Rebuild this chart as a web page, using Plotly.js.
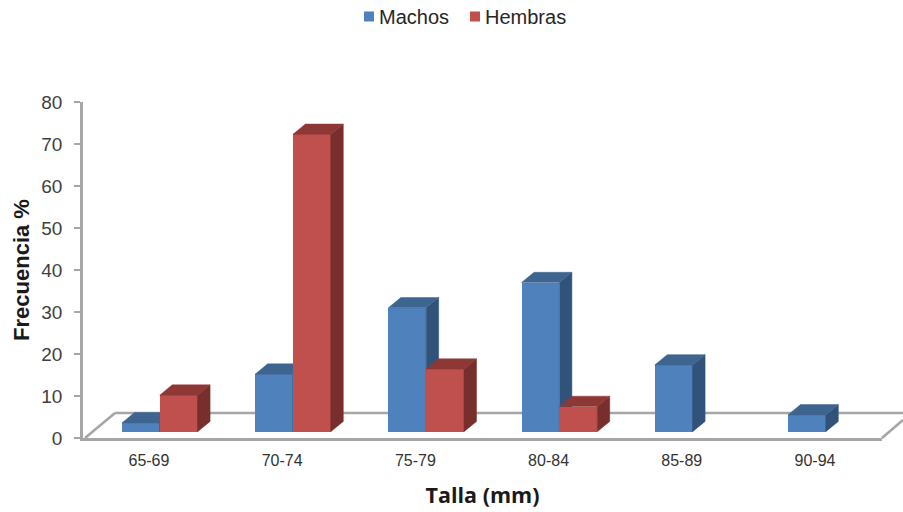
<!DOCTYPE html>
<html>
<head>
<meta charset="utf-8">
<script src="https://cdn.plot.ly/plotly-3.0.1.min.js"></script>
<style>html,body{margin:0;padding:0;background:#fff;overflow:hidden}</style>
</head>
<body>
<div id="chart" style="width:903px;height:512px"></div>
<script>
const categories = ["65-69","70-74","75-79","80-84","85-89","90-94"];
const machos  = [2.1, 13.7, 29.5, 35.5, 15.9, 4];
const hembras = [8.7, 70.8, 14.9, 6, null, null];

// Pseudo-3D geometry, in axis units
const base = 1.5, depthX = 0.094, depthY = 2.45, barW = 0.284;
const offM = -0.203, offH = offM + barW;
const xPos = categories.map((_, i) => i);

function bar(name, vals, off, color, xa, ya, legendwidth) {
  return {type:'bar', name, x:xPos, y:vals, base:vals.map(()=>base), offset:off, width:barW,
    marker:{color, line:{width:0}}, xaxis:xa, yaxis:ya, hoverinfo:'x+y', legendwidth};
}
function face(vals, off, color, kind, xa, ya) {
  const xs = [], ys = [];
  vals.forEach((v, i) => {
    if (v === null) return;
    const L = i + off, R = L + barW, t = base + v;
    const px = kind === 'top' ? [L, L+depthX, R+depthX, R, L] : [R, R+depthX, R+depthX, R, R];
    const py = kind === 'top' ? [t, t+depthY, t+depthY, t, t] : [base, base+depthY, t+depthY, t, base];
    xs.push(...px, null); ys.push(...py, null);
  });
  return {type:'scatter', mode:'lines', x:xs, y:ys, fill:'toself', fillcolor:color,
    line:{color, width:0.5}, showlegend:false, hoverinfo:'skip', xaxis:xa, yaxis:ya};
}

const traces = [
  bar('Machos', machos, offM, '#4f81bd', 'x', 'y', 61),
  face(machos, offM, '#31527a', 'side', 'x', 'y'),
  face(machos, offM, '#3e6590', 'top', 'x', 'y'),
  bar('Hembras', hembras, offH, '#c0504d', 'x2', 'y2', 86),
  face(hembras, offH, '#782e2c', 'side', 'x2', 'y2'),
  face(hembras, offH, '#8e3836', 'top', 'x2', 'y2')
];

const plotL = 83, plotR = 882, plotT = 102, plotB = 438;
const xRange = [-0.495, 5.503], yRange = [0, 80];
const px = v => (v - plotL) / (plotR - plotL);
const py = v => (plotB - v) / (plotB - plotT);
const floorLine = {color:'#a6a6a6', width:2.6};
const floorShapes = [
  [85,438,115,413],[115,413,903,413],[882,438,903,420]
].map(s => ({type:'line', layer:'below', xref:'paper', yref:'paper',
  x0:px(s[0]), y0:py(s[1]), x1:px(s[2]), y1:py(s[3]), line:floorLine}));

const layout = {
  width:903, height:512, autosize:false,
  margin:{l:plotL, r:903-plotR, t:plotT, b:512-plotB, autoexpand:false},
  paper_bgcolor:'#fff', plot_bgcolor:'rgba(0,0,0,0)',
  font:{family:'"Liberation Sans", Arial, sans-serif', color:'#404040'},
  showlegend:true,
  legend:{orientation:'h', x:px(339), xanchor:'left', y:py(-3), yanchor:'top',
    font:{size:20, color:'#262626'}, traceorder:'normal'},
  xaxis:{type:'linear', range:xRange, tickmode:'array', tickvals:xPos, ticktext:categories,
    showgrid:false, zeroline:false, showline:true, linecolor:'#a6a6a6', linewidth:2.6,
    ticks:'outside', ticklen:6, tickcolor:'rgba(0,0,0,0)',
    tickfont:{size:16, color:'#333333'},
    title:{text:'Talla (mm)', standoff:20, font:{family:'"Open Sans", sans-serif', size:21.5, color:'#1a1a1a', weight:700}}},
  yaxis:{range:yRange, tickmode:'array', tickvals:[0,10,20,30,40,50,60,70,80],
    showgrid:false, zeroline:false, showline:true, linecolor:'#a6a6a6', linewidth:2.6,
    ticks:'outside', ticklen:6, tickwidth:1.5, tickcolor:'#a6a6a6', ticklabelstandoff:8,
    tickfont:{size:19, color:'#404040'},
    title:{text:'Frecuencia %', standoff:6, font:{size:22, color:'#1a1a1a', weight:700}}},
  xaxis2:{overlaying:'x', matches:'x', visible:false},
  yaxis2:{overlaying:'y', matches:'y', visible:false},
  shapes:floorShapes,
  bargap:0
};

Plotly.newPlot('chart', traces, layout, {displayModeBar:false, responsive:false}).then(gd => {
  // Legend keys in the reference are small squares set close to their text.
  gd.querySelectorAll('.legend .legendsymbols').forEach(g => {
    g.setAttribute('transform', 'translate(10,0)');
    g.querySelectorAll('path').forEach(p => p.setAttribute('d', 'M5,5H-5V-5H5Z'));
  });
});
</script>
</body>
</html>
